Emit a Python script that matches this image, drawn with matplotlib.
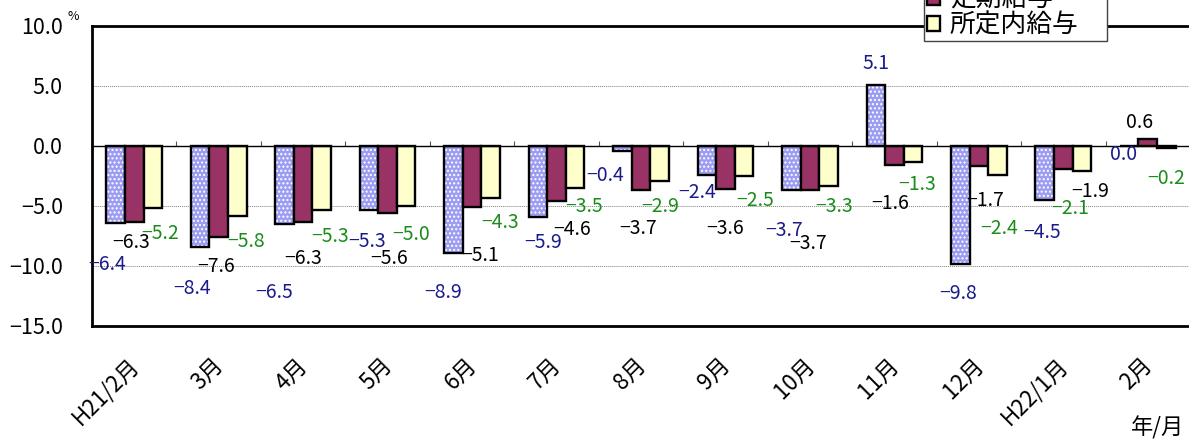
import numpy as np
import matplotlib
matplotlib.use("Agg")
import matplotlib.pyplot as plt
import matplotlib.transforms as mtrans
from matplotlib.ticker import FuncFormatter

plt.rcParams['font.family'] = ['Noto Sans CJK JP', 'DejaVu Sans']

# data
months = ['H21/2月', '3月', '4月', '5月', '6月', '7月', '8月', '9月',
          '10月', '11月', '12月', 'H22/1月', '2月']
series_names = ['現金給与総額', '定期給与', '所定内給与']
total_pay = [-6.4, -8.4, -6.5, -5.3, -8.9, -5.9, -0.4, -2.4, -3.7, 5.1, -9.8, -4.5, 0.0]
regular_pay = [-6.3, -7.6, -6.3, -5.6, -5.1, -4.6, -3.7, -3.6, -3.7, -1.6, -1.7, -1.9, 0.6]
scheduled_pay = [-5.2, -5.8, -5.3, -5.0, -4.3, -3.5, -2.9, -2.5, -3.3, -1.3, -2.4, -2.1, -0.2]

# label offsets (pixels, x right / y down) - labels were hand placed in the original
total_off = [(-9, 42), (-8, 42), (-10, 69), (-2, 32), (-10, 40), (5, 26), (-17, 25),
             (-10, 18), (-7, 40), (0, -21), (-2, 30), (-3, 33), (-6, 8)]
regular_off = [(-3, 21), (-3, 29), (0, 37), (2, 45), (8, 48), (16, 28), (-3, 38),
               (0, 39), (-2, 53), (-4, 38), (6, 34), (27, 23), (-8, -16)]
scheduled_off = [(7, 25), (9, 26), (8, 27), (5, 28), (9, 25), (9, 19), (1, 26),
                 (11, 24), (6, 21), (4, 23), (2, 54), (-12, 37), (0, 30)]


def fmt(v):
    return f"{v:.1f}".replace('-', '−')


fig = plt.figure(figsize=(11.89, 4.43), dpi=100)
ax = fig.add_axes([92 / 1189, 1 - 326 / 443, 1098 / 1189, 300 / 443])

x = np.arange(len(months))
w = 0.22

# blue dotted bars: fill with white dots, then black outline on top
ax.bar(x - w, total_pay, w, color='#9c9cf2', edgecolor='white', hatch='....',
       linewidth=0, zorder=3)
b1 = ax.bar(x - w, total_pay, w, facecolor='none', edgecolor='black', linewidth=1.7,
            zorder=4, label=series_names[0])
b2 = ax.bar(x, regular_pay, w, color='#993366', edgecolor='black', linewidth=1.7,
            zorder=4, label=series_names[1])
b3 = ax.bar(x + w, scheduled_pay, w, color='#ffffcc', edgecolor='black', linewidth=1.7,
            zorder=4, label=series_names[2])

# data labels
for vals, offs, dx0, col in [(total_pay, total_off, -w, '#1a1a8c'),
                             (regular_pay, regular_off, 0, 'black'),
                             (scheduled_pay, scheduled_off, w, '#1a8c1a')]:
    for i, v in enumerate(vals):
        ax.annotate(fmt(v), xy=(x[i] + dx0, v), xytext=(offs[i][0], -offs[i][1]),
                    textcoords='offset pixels', ha='center', va='center',
                    fontsize=14, color=col, zorder=6)

ax.set_xlim(-0.5, len(months) - 0.5)
ax.set_ylim(-15, 10)
ax.set_yticks([10, 5, 0, -5, -10, -15])
ax.yaxis.set_major_formatter(FuncFormatter(lambda v, p: fmt(v)))
ax.tick_params(axis='y', length=0, pad=21, labelsize=15.5)

# gridlines and zero line
for g in [5, -5, -10]:
    ax.axhline(g, color='#808080', linestyle=(0, (1, 1)), linewidth=0.7, zorder=1)
ax.axhline(0, color='black', linewidth=1.0, zorder=5)
# small category tick marks on the zero line
ax.vlines(np.arange(len(months) - 1) + 0.5, 0, 0.45, color='#555555', linewidth=0.8, zorder=2)

ax.set_xticks(x)
ax.set_xticklabels(months, rotation=45, ha='right', rotation_mode='anchor')
ax.tick_params(axis='x', length=0, pad=20, labelsize=16)
shift = mtrans.ScaledTranslation(-7 / 100, 0, fig.dpi_scale_trans)
for lab in ax.get_xticklabels():
    lab.set_transform(lab.get_transform() + shift)

for s in ax.spines.values():
    s.set_linewidth(2)
    s.set_color('black')

fig.text(68 / 1189, 1 - 17 / 443, '%', fontsize=9, ha='left', va='center')
fig.text(1184 / 1189, 1 - 428 / 443, '年/月', fontsize=16, ha='right', va='center')

leg = ax.legend(handles=[b1, b2, b3], loc='lower right',
                bbox_to_anchor=(1107 / 1189, 1 - 41 / 443), bbox_transform=fig.transFigure,
                fontsize=18.5, frameon=True, fancybox=False, edgecolor='#444444',
                framealpha=1, handlelength=0.5, handleheight=0.5, handletextpad=0.4,
                labelspacing=0.0, borderpad=0.1, borderaxespad=0)
leg.get_frame().set_linewidth(1.0)
leg.set_zorder(10)

fig.savefig('out.png', dpi=100)
